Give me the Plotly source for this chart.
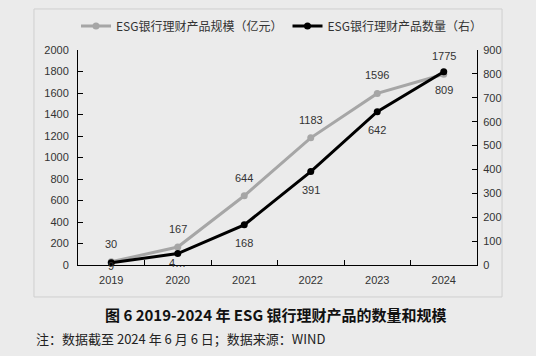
import plotly.graph_objects as go

years = ["2019", "2020", "2021", "2022", "2023", "2024"]
scale_values = [30, 167, 644, 1183, 1596, 1775]   # 规模（亿元）
count_values = [9, 48, 168, 391, 642, 809]        # 数量（右）

scale_name = "ESG银行理财产品规模（亿元）"
count_name = "ESG银行理财产品数量（右）"
title_text = "图 6 2019-2024 年 ESG 银行理财产品的数量和规模"
note_text = "注：数据截至 2024 年 6 月 6 日；数据来源：WIND"

left_ticks = list(range(0, 2001, 200))
right_ticks = list(range(0, 901, 100))

# label text (the 2020 count label is truncated in the source image)
scale_labels = [str(v) for v in scale_values]
count_labels = [str(v) for v in count_values]
count_labels[1] = count_labels[1][0] + "…"

# label offsets (style)
scale_shift = [18, 18, 18, 18, 18, 18]
count_shift = [-3, -9, -18, -18, -18, -18]

BG = "#ebebeb"
GRAY = "#a6a6a6"
TXT = "#333333"
tick_font = dict(family="Liberation Sans, Arial", size=11, color=TXT)

fig = go.Figure()
fig.add_trace(go.Scatter(
    x=years, y=scale_values, name=scale_name, mode="lines+markers",
    line=dict(color=GRAY, width=3), marker=dict(color=GRAY, size=7),
    yaxis="y", cliponaxis=False))
fig.add_trace(go.Scatter(
    x=years, y=count_values, name=count_name, mode="lines+markers",
    line=dict(color="#000000", width=3), marker=dict(color="#000000", size=7),
    yaxis="y2", cliponaxis=False))

annotations = []
for i, (v, t, s) in enumerate(zip(scale_values, scale_labels, scale_shift)):
    annotations.append(dict(x=i, y=v, xref="x", yref="y", text=t, showarrow=False,
                            yshift=s, font=tick_font))
for i, (v, t, s) in enumerate(zip(count_values, count_labels, count_shift)):
    annotations.append(dict(x=i, y=v, xref="x", yref="y2", text=t, showarrow=False,
                            yshift=s, font=tick_font))

annotations.append(dict(x=0.496, y=-0.228, xref="paper", yref="paper", text="<b>" + title_text + "</b>",
                        showarrow=False, xanchor="center", yanchor="middle",
                        font=dict(family="Noto Sans CJK SC", size=15, color="#111111")))
annotations.append(dict(x=-0.1103, y=-0.344, xref="paper", yref="paper", text=note_text,
                        showarrow=False, xanchor="left", yanchor="middle",
                        font=dict(family="Noto Sans CJK SC", size=13, color="#222222")))

fig.update_layout(
    width=536, height=356,
    margin=dict(l=78, r=59, t=50, b=91, autoexpand=False),
    paper_bgcolor=BG, plot_bgcolor=BG,
    showlegend=True,
    legend=dict(orientation="h", xref="paper", yref="paper", x=-0.005, y=1.112,
                xanchor="left", yanchor="middle",
                bgcolor="rgba(0,0,0,0)",
                font=dict(family="Noto Sans CJK SC", size=12, color=TXT),
                itemwidth=30, tracegroupgap=0),
    xaxis=dict(type="category", range=[-0.5, 5.5], showline=True, linecolor="#000000", linewidth=1,
               ticks="inside", ticklen=5, tickcolor="#000000", tickson="boundaries",
               ticklabelstandoff=5,
               showgrid=False, zeroline=False, tickfont=tick_font, fixedrange=True),
    yaxis=dict(range=[0, 2000], tickvals=left_ticks, showline=True, linecolor="#000000", linewidth=1,
               ticks="inside", ticklen=5, tickcolor="#000000", showgrid=False, zeroline=False,
               ticklabelstandoff=6, tickfont=tick_font),
    yaxis2=dict(range=[0, 900], tickvals=right_ticks, overlaying="y", side="right", showline=True,
                linecolor="#000000", linewidth=1, ticks="inside", ticklen=5, tickcolor="#000000",
                ticklabelstandoff=3,
                showgrid=False, zeroline=False, tickfont=tick_font),
    annotations=annotations,
    shapes=[dict(type="rect", xref="paper", yref="paper", x0=-0.1103, x1=1.0627, y0=-0.1488, y1=1.1907,
                 line=dict(color="#cfcfcf", width=1), fillcolor="rgba(0,0,0,0)", layer="below")],
)

fig.write_html("out.html", config={"displayModeBar": False},
               post_script="document.body.style.margin='0';document.body.style.background='%s';" % BG)
